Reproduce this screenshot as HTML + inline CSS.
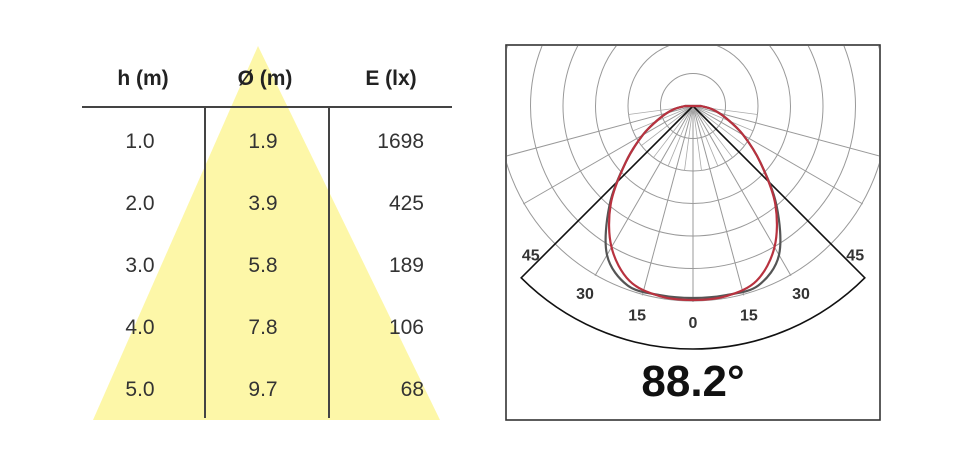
<!DOCTYPE html>
<html><head><meta charset="utf-8"><style>
body{margin:0;background:#fff;width:970px;height:472px;overflow:hidden;font-family:"Liberation Sans",sans-serif}
svg{display:block}
</style></head><body>
<svg width="970" height="472" viewBox="0 0 970 472">
<g>
<polygon points="258,46 93,420 440,420" fill="#fdf7a8"/>
<g font-size="21" fill="#222" text-anchor="middle" font-weight="bold">
<text x="143" y="85">h (m)</text>
<text x="265" y="85">Ø (m)</text>
<text x="391" y="85">E (lx)</text>
</g>
<line x1="82" y1="107" x2="452" y2="107" stroke="#444" stroke-width="2"/>
<line x1="205" y1="107" x2="205" y2="418" stroke="#444" stroke-width="2"/>
<line x1="329" y1="107" x2="329" y2="418" stroke="#444" stroke-width="2"/>
<g id="rows" font-size="21" fill="#333"></g>
</g>
<g>
<clipPath id="box"><rect x="507" y="46" width="372" height="373"/></clipPath>
<g id="grid" clip-path="url(#box)"></g>
<path id="sectorEdge" fill="none" stroke="#111" stroke-width="1.6"/>
<path id="grayCurve" fill="none" stroke="#555" stroke-width="2.2"/>
<path id="redCurve" fill="none" stroke="#b8323f" stroke-width="2.2"/>
<g id="labels" font-size="16" font-weight="bold" fill="#333" text-anchor="middle"></g>
<rect x="506" y="45" width="374" height="375" fill="none" stroke="#333" stroke-width="1.6"/>
<text x="693" y="396" font-size="44" font-weight="bold" fill="#111" text-anchor="middle">88.2°</text>
</g>
</svg>
<script>
const heights=["1.0","2.0","3.0","4.0","5.0"];
const diameters=["1.9","3.9","5.8","7.8","9.7"];
const lux=["1698","425","189","106","68"];
const angles=[0,10,20,30,40,50,60,70,80,90];
const redR=[194,193,186,163,128,88,58,35,20,8];
const grayR=[192,192,191,172,130,88,58,35,20,8];
const tickLabels=["45","30","15","0","15","30","45"];
const tickAngles=[-45,-30,-15,0,15,30,45];
const NS="http://www.w3.org/2000/svg";
function mk(t,a,p){const e=document.createElementNS(NS,t);for(const k in a)e.setAttribute(k,a[k]);p.appendChild(e);return e;}
const rows=document.getElementById('rows');
heights.forEach((h,i)=>{
 const y=148+i*62;
 let t=mk('text',{x:140,y:y,'text-anchor':'middle'},rows);t.textContent=h;
 
 
 t=mk('text',{x:263,y:y,'text-anchor':'middle'},rows);t.textContent=diameters[i];
 
 
 t=mk('text',{x:424,y:y,'text-anchor':'end'},rows);t.textContent=lux[i];
 
 
});
const cx=693,cy=106,ring=32.5,RG=196;
function pt(deg,r){const a=deg*Math.PI/180;return [cx+r*Math.sin(a),cy+r*Math.cos(a)];}
const grid=document.getElementById('grid');
for(let k=1;k<=6;k++){const c=mk('circle',{cx:cx,cy:cy,r:Math.min(k*ring,RG),fill:'none',stroke:'#999','stroke-width':1},grid);
 
 }
for(let d=-75;d<=75;d+=15){const p=pt(d,RG);const l=mk('line',{x1:cx,y1:cy,x2:p[0],y2:p[1],stroke:'#999','stroke-width':1},grid);
 
 }
for(let d=-82.5;d<=82.5;d+=15){const p=pt(d,2*ring);const l=mk('line',{x1:cx,y1:cy,x2:p[0],y2:p[1],stroke:'#aaa','stroke-width':0.8},grid);
 
 }
const R1=243;
const sa=pt(-45,R1),sb=pt(45,R1);
document.getElementById('sectorEdge').setAttribute('d',`M${cx},${cy} L${sa[0]},${sa[1]} A${R1},${R1} 0 0 0 ${sb[0]},${sb[1]} Z`);
function curve(rs){let pts=[];for(let i=angles.length-1;i>=0;i--)pts.push(pt(-angles[i],rs[i]));for(let i=1;i<angles.length;i++)pts.push(pt(angles[i],rs[i]));
 let d=`M${pts[0][0]},${pts[0][1]}`;for(let i=1;i<pts.length;i++){const p0=pts[Math.max(0,i-2)],p1=pts[i-1],p2=pts[i],p3=pts[Math.min(pts.length-1,i+1)];
 d+=` C${p1[0]+(p2[0]-p0[0])/6},${p1[1]+(p2[1]-p0[1])/6} ${p2[0]-(p3[0]-p1[0])/6},${p2[1]-(p3[1]-p1[1])/6} ${p2[0]},${p2[1]}`;}
 const t=pt(0,0);return d+` L${t[0]},${t[1]} Z`;}
document.getElementById('grayCurve').setAttribute('d',curve(grayR));
document.getElementById('redCurve').setAttribute('d',curve(redR));
const labels=document.getElementById('labels');
tickLabels.forEach((s,i)=>{const a=tickAngles[i];let p;
 if(Math.abs(a)==45){p=pt(Math.sign(a)*47.5,220);}else p=pt(a,216);
 const t=mk('text',{x:p[0],y:p[1]+6},labels);t.textContent=s;
 
 });
</script>
</body></html>
